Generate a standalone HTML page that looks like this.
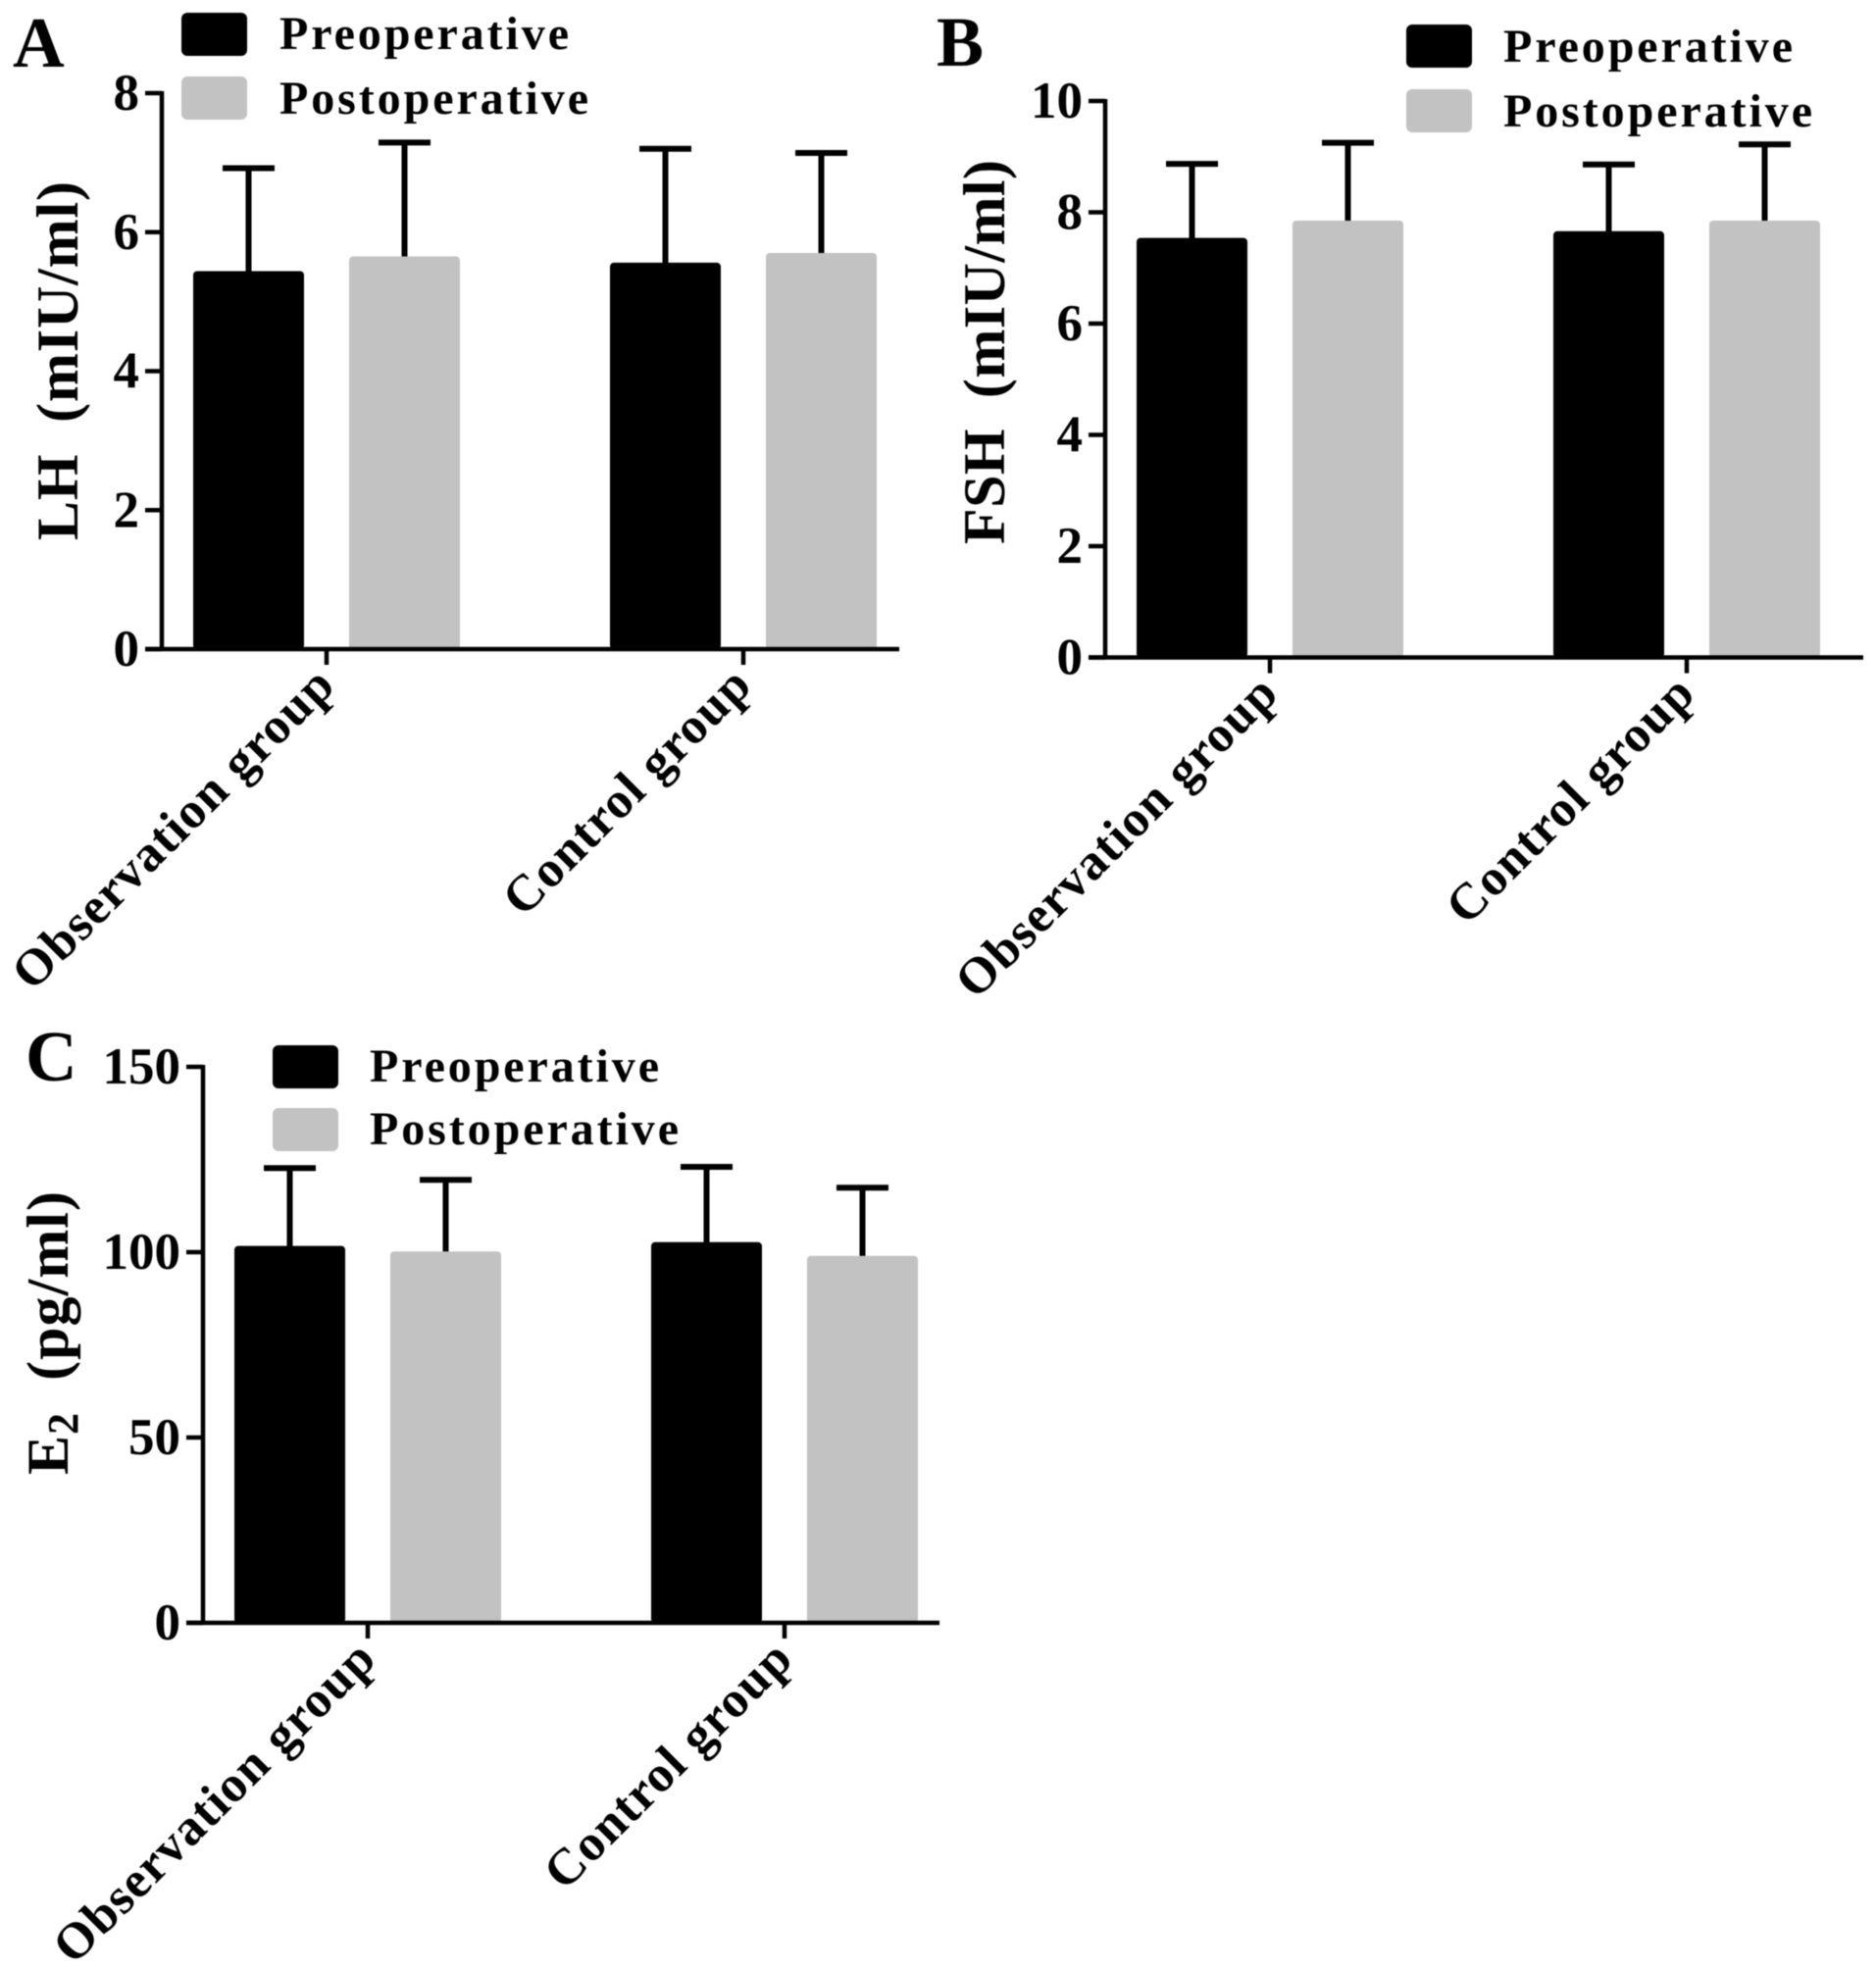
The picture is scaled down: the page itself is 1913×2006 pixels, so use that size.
<!DOCTYPE html>
<html lang="en">
<head>
<meta charset="utf-8">
<title>Hormone levels before and after surgery</title>
<style>
html,body{margin:0;padding:0;background:#fff;}
svg{display:block;filter:blur(0.6px);}
text{font-family:"Liberation Serif",serif;font-weight:bold;fill:#000;}
</style>
</head>
<body>
<svg id="figure" xmlns="http://www.w3.org/2000/svg" width="1913" height="2006" viewBox="0 0 1913 2006">
<rect x="0" y="0" width="1913" height="2006" fill="#fff"/>

<g id="panel-a">
<text x="13" y="68" font-size="73">A</text>
<text transform="translate(79 551) rotate(-90)" font-size="60" textLength="366" lengthAdjust="spacing" xml:space="preserve">LH  (mIU/ml)</text>
<rect x="185" y="13" width="67" height="44" rx="6" fill="#000"/>
<rect x="185" y="78" width="67" height="44" rx="6" fill="#c2c2c2"/>
<text x="285" y="50" font-size="48" textLength="295">Preoperative</text>
<text x="285" y="116" font-size="48" textLength="315">Postoperative</text>
</g>

<g id="panel-b">
<text x="955" y="67" font-size="72">B</text>
<text transform="translate(1024 555) rotate(-90)" font-size="60" textLength="392" lengthAdjust="spacing" xml:space="preserve">FSH  (mIU/ml)</text>
<rect x="1434" y="25" width="67" height="44" rx="6" fill="#000"/>
<rect x="1434" y="91" width="67" height="44" rx="6" fill="#c2c2c2"/>
<text x="1533" y="63" font-size="48" textLength="295">Preoperative</text>
<text x="1533" y="129" font-size="48" textLength="315">Postoperative</text>
</g>

<g id="panel-c">
<text x="26" y="1102" font-size="73">C</text>
<text transform="translate(69 1504) rotate(-90)" font-size="60" textLength="289" lengthAdjust="spacing" xml:space="preserve">E<tspan font-size="44" dy="10">2</tspan><tspan dy="-10">  (pg/ml)</tspan></text>
<rect x="278" y="1066" width="67" height="44" rx="6" fill="#000"/>
<rect x="278" y="1130" width="67" height="44" rx="6" fill="#c2c2c2"/>
<text x="377" y="1103" font-size="48" textLength="295">Preoperative</text>
<text x="377" y="1167" font-size="48" textLength="315">Postoperative</text>
</g>
</svg>
<script>
const categories = ["Observation group", "Control group"];
const lhPreoperative = [5.44, 5.56];
const lhPostoperative = [5.65, 5.70];
const lhPreoperativeUpper = [6.92, 7.20];
const lhPostoperativeUpper = [7.29, 7.14];
const lhTicks = [0, 2, 4, 6, 8];
const fshPreoperative = [7.54, 7.66];
const fshPostoperative = [7.85, 7.85];
const fshPreoperativeUpper = [8.87, 8.86];
const fshPostoperativeUpper = [9.25, 9.22];
const fshTicks = [0, 2, 4, 6, 8, 10];
const e2Preoperative = [101.7, 102.7];
const e2Postoperative = [100.2, 99];
const e2PreoperativeUpper = [122.7, 123];
const e2PostoperativeUpper = [119.5, 117.4];
const e2Ticks = [0, 50, 100, 150];

const svgNS = "http://www.w3.org/2000/svg";

function make(parent, tag, attrs, text) {
  const el = document.createElementNS(svgNS, tag);
  for (const k in attrs) el.setAttribute(k, attrs[k]);
  if (text !== undefined) el.textContent = text;
  parent.appendChild(el);
  return el;
}

function drawPanel(panelId, axisX, axisEnd, plotTop, plotBottom, ticks, pre, post, preUpper, postUpper) {
  const root = document.getElementById(panelId);
  const maxTick = ticks[ticks.length - 1];
  const yScale = function (v) { return plotBottom - (v / maxTick) * (plotBottom - plotTop); };
  const xGroup = function (i) { return axisX + 168 + i * 425; };
  const barWidth = 113;
  const barOffset = 79.5;
  const seriesList = [
    { key: "preoperative", values: pre, uppers: preUpper, fill: "#000", dir: -1 },
    { key: "postoperative", values: post, uppers: postUpper, fill: "#c2c2c2", dir: 1 }
  ];

  seriesList.forEach(function (s) {
    categories.forEach(function (cat, i) {
      const cx = xGroup(i) + s.dir * barOffset;
      const errorTop = yScale(s.uppers[i]);
      const barTop = yScale(s.values[i]);
      const stem = make(root, "line", { x1: cx, x2: cx, y1: barTop + 1, y2: errorTop, stroke: "#000", "stroke-width": 6 });
      
      
      const cap = make(root, "line", { x1: cx - 26.5, x2: cx + 26.5, y1: errorTop, y2: errorTop, stroke: "#000", "stroke-width": 6 });
      
      
      const bar = make(root, "rect", { x: cx - barWidth / 2, y: barTop, width: barWidth, height: plotBottom - barTop, rx: 4, fill: s.fill });
      
      
    });
  });

  const yAxis = make(root, "line", { x1: axisX, x2: axisX, y1: plotTop - 2, y2: plotBottom + 2, stroke: "#000", "stroke-width": 4.5 });
  
  
  const xAxis = make(root, "line", { x1: axisX - 17, x2: axisEnd, y1: plotBottom, y2: plotBottom, stroke: "#000", "stroke-width": 4.5 });
  
  

  ticks.forEach(function (t) {
    const y = yScale(t);
    const tick = make(root, "line", { x1: axisX - 17, x2: axisX, y1: y, y2: y, stroke: "#000", "stroke-width": 4.5 });
    
    
    const label = make(root, "text", { x: axisX - 23, y: y + 17, "text-anchor": "end", "font-size": 53 }, String(t));
    
    
  });

  categories.forEach(function (cat, i) {
    const x = xGroup(i);
    const tick = make(root, "line", { x1: x, x2: x, y1: plotBottom, y2: plotBottom + 16, stroke: "#000", "stroke-width": 4.5 });
    
    
    const label = make(root, "text", {
      transform: "translate(" + (x + 11) + " " + (plotBottom + 39) + ") rotate(-45)",
      "text-anchor": "end",
      "font-size": 52,
      "letter-spacing": 1.2
    }, cat);
    
    
  });
}

drawPanel("panel-a", 165, 917, 95, 662, lhTicks, lhPreoperative, lhPostoperative, lhPreoperativeUpper, lhPostoperativeUpper);
drawPanel("panel-b", 1127, 1900, 103, 670.5, fshTicks, fshPreoperative, fshPostoperative, fshPreoperativeUpper, fshPostoperativeUpper);
drawPanel("panel-c", 207, 958, 1088, 1655, e2Ticks, e2Preoperative, e2Postoperative, e2PreoperativeUpper, e2PostoperativeUpper);
</script>
</body>
</html>
